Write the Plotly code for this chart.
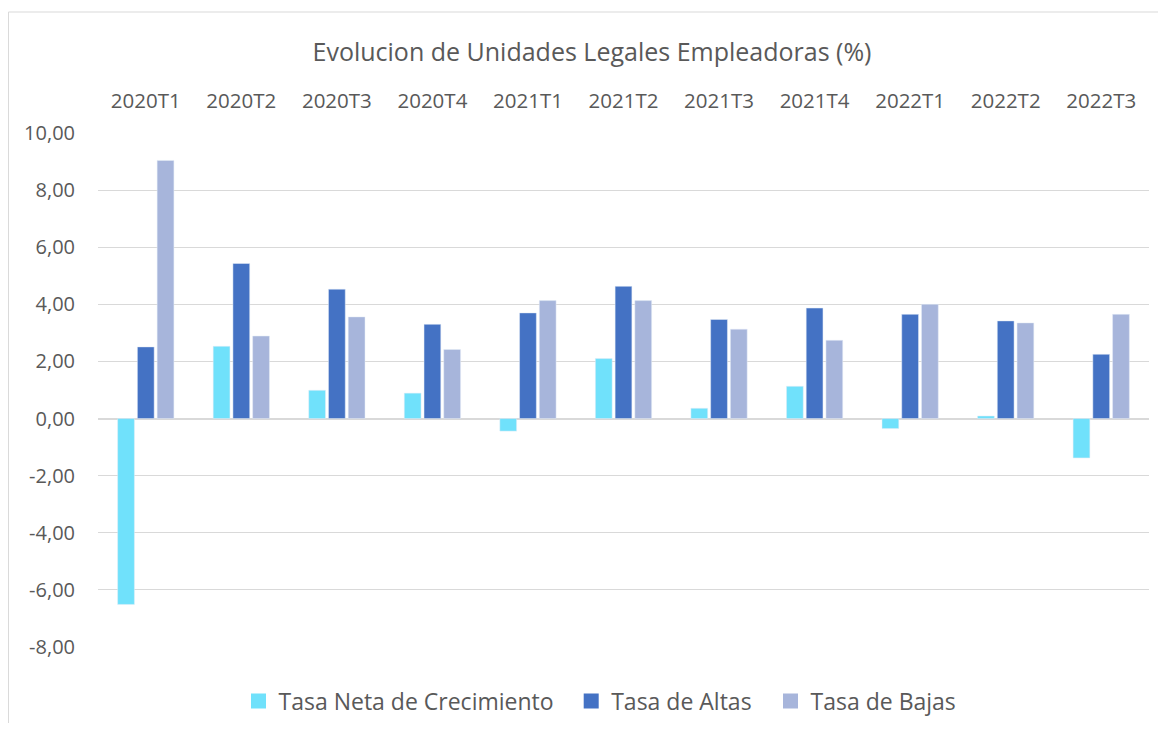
import plotly.graph_objects as go

categorias = ["2020T1", "2020T2", "2020T3", "2020T4", "2021T1", "2021T2",
              "2021T3", "2021T4", "2022T1", "2022T2", "2022T3"]
tasa_neta = [-6.51, 2.53, 0.99, 0.89, -0.44, 2.10, 0.36, 1.13, -0.35, 0.09, -1.38]
tasa_altas = [2.51, 5.43, 4.53, 3.30, 3.70, 4.63, 3.47, 3.87, 3.65, 3.42, 2.25]
tasa_bajas = [9.04, 2.89, 3.56, 2.42, 4.13, 4.13, 3.13, 2.74, 4.00, 3.35, 3.65]

y_ticks = [-8, -6, -4, -2, 0, 2, 4, 6, 8, 10]
y_tick_labels = ["-8,00", "-6,00", "-4,00", "-2,00", "0,00",
                 "2,00", "4,00", "6,00", "8,00", "10,00"]

nombres = ["Tasa Neta de Crecimiento", "Tasa de Altas", "Tasa de Bajas"]
colores = ["#70E1FB", "#4472C4", "#A7B5DB"]
series = [tasa_neta, tasa_altas, tasa_bajas]

FONT = "Open Sans"
TXT = "#595959"

# page has an 8px body margin; figure spans 1150x715 inside it
W, H = 1150, 715
ML, MT = 90, 125
MR = W - 1140.8
MB = H - 639
PW = W - ML - MR
PH = H - MT - MB

legend_ids = ["legend", "legend2", "legend3"]
legend_marker_x = [250.5, 583.2, 782.5]  # marker centres (figure px)

fig = go.Figure()
for nombre, color, vals in zip(nombres, colores, series):
    fig.add_trace(go.Bar(x=categorias, y=vals, name=nombre, marker_color=color,
                         showlegend=False, hoverinfo="x+y+name"))
for nombre, color, lid in zip(nombres, colores, legend_ids):
    fig.add_trace(go.Scatter(x=[None], y=[None], mode="markers", name=nombre,
                             marker=dict(symbol="square", size=15, color=color),
                             showlegend=True, legend=lid))

legend_common = dict(orientation="h", xanchor="left", xref="container",
                     y=1 - 693 / H, yanchor="middle", yref="container",
                     font=dict(family=FONT, size=23, color=TXT),
                     itemclick=False, bgcolor="rgba(0,0,0,0)", borderwidth=0)
legends = {lid: dict(x=(mx - 20) / W, **legend_common)
           for lid, mx in zip(legend_ids, legend_marker_x)}

fig.update_layout(
    width=W, height=H,
    margin=dict(l=ML, r=MR, t=MT, b=MB, autoexpand=False),
    paper_bgcolor="white", plot_bgcolor="white",
    barmode="group", bargap=0.38, bargroupgap=0.15,
    font=dict(family=FONT, color=TXT, size=20),
    title=dict(text="Evolucion de Unidades Legales Empleadoras (%)",
               x=(592 - 8) / W, xanchor="center", xref="container",
               y=1 - 44 / H, yanchor="middle", yref="container",
               font=dict(family=FONT, size=25, color=TXT)),
    xaxis=dict(type="category", side="top", showgrid=False, showline=False,
               zeroline=False, ticks="", ticklabelstandoff=20,
               tickfont=dict(family=FONT, size=20.5, color=TXT)),
    yaxis=dict(range=[-8, 10], tickmode="array", tickvals=y_ticks,
               ticktext=y_tick_labels,
               showgrid=True, gridcolor="#D9D9D9", gridwidth=1,
               zeroline=True, zerolinecolor="#D9D9D9", zerolinewidth=1.5,
               showline=False, ticks="", ticklabelstandoff=22,
               tickfont=dict(family=FONT, size=20, color=TXT)),
    shapes=[dict(type="rect", xref="paper", yref="paper",
                 x0=(0.5 - ML) / PW, x1=1.2, y0=-0.3, y1=1 + (MT - 4) / PH,
                 line=dict(color="#D9D9D9", width=1), fillcolor="rgba(0,0,0,0)",
                 layer="below")],
    **legends,
)

fig.write_html("out.html")
